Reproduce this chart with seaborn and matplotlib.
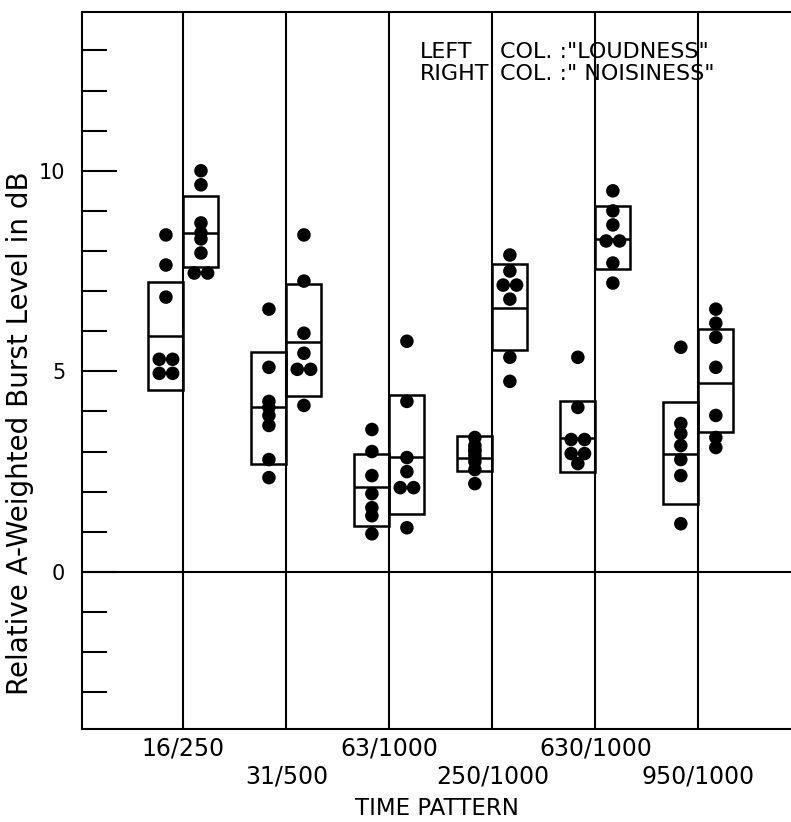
import matplotlib
matplotlib.use("Agg")
import numpy as np
import pandas as pd
import matplotlib.pyplot as plt
import seaborn as sns

# ---------------------------------------------------------------
# data (dB, relative A-weighted burst level)
# ---------------------------------------------------------------
patterns = ["16/250", "31/500", "63/1000", "250/1000", "630/1000", "950/1000"]

loud_pts = [
    [8.4, 7.65, 6.85, 5.3, 5.3, 4.95, 4.95],
    [6.55, 5.1, 4.25, 4.1, 3.9, 3.65, 2.8, 2.35],
    [3.55, 3.0, 2.4, 1.95, 1.6, 1.4, 0.95],
    [3.35, 3.15, 3.05, 3.0, 2.9, 2.75, 2.55, 2.2],
    [5.35, 4.1, 3.3, 3.3, 2.95, 2.95, 2.7],
    [5.6, 3.7, 3.45, 3.15, 2.8, 2.4, 1.2],
]
noise_pts = [
    [10.0, 9.65, 8.7, 8.45, 8.3, 7.95, 7.45, 7.45],
    [8.4, 7.25, 5.95, 5.45, 5.05, 5.05, 4.15],
    [5.75, 4.25, 2.85, 2.5, 2.1, 2.1, 1.1],
    [7.9, 7.5, 7.15, 7.15, 6.8, 5.35, 4.75],
    [9.5, 9.0, 8.65, 8.25, 8.25, 7.7, 7.2],
    [6.55, 6.2, 5.85, 5.1, 3.9, 3.35, 3.1],
]

loud_hi = [7.23, 5.48, 2.95, 3.38, 4.26, 4.23]
loud_mid = [5.87, 4.11, 2.12, 2.85, 3.33, 2.93]
loud_lo = [4.53, 2.68, 1.15, 2.51, 2.49, 1.68]

noise_hi = [9.36, 7.18, 4.41, 7.68, 9.13, 6.05]
noise_mid = [8.44, 5.74, 2.87, 6.58, 8.30, 4.72]
noise_lo = [7.59, 4.38, 1.44, 5.53, 7.55, 3.48]

BOX_W = 0.34   # width of one column box (in pattern units)
DOT_GAP = 0.13  # side-by-side spacing for repeated readings


def spread(vals):
    """horizontal offsets so that equal readings sit next to each other"""
    offs = []
    for i, v in enumerate(vals):
        same = [j for j, w in enumerate(vals) if w == v]
        r = same.index(i)
        offs.append((r - (len(same) - 1) / 2) * DOT_GAP)
    return offs


rows = []
for i, p in enumerate(patterns):
    for col, pts, side in (("Loudness", loud_pts[i], -1), ("Noisiness", noise_pts[i], 1)):
        for v, o in zip(pts, spread(pts)):
            rows.append({"pattern": p, "column": col,
                         "x": i + side * BOX_W / 2 + o, "level": v})
df = pd.DataFrame(rows)

# ---------------------------------------------------------------
# figure
# ---------------------------------------------------------------
sns.set_style("ticks")
plt.rcParams["font.family"] = ["DejaVu Sans"]
plt.rcParams.update({"text.color": "black", "axes.labelcolor": "black",
                     "xtick.color": "black", "ytick.color": "black",
                     "axes.edgecolor": "black"})

fig, ax = plt.subplots(figsize=(7.91, 8.22), dpi=100)
fig.subplots_adjust(left=0.1037, right=1.0, bottom=0.113, top=0.985)

idx = np.arange(len(patterns))

# separators through each time pattern
for i in idx:
    ax.axvline(i, color="black", lw=1.5, zorder=1)
ax.axhline(0, color="black", lw=1.5, zorder=1)

# boxes: left column = loudness, right column = noisiness
lh, lm, ll = map(np.array, (loud_hi, loud_mid, loud_lo))
nh, nm, nl = map(np.array, (noise_hi, noise_mid, noise_lo))
ax.bar(idx - BOX_W / 2, lh - ll, bottom=ll, width=BOX_W, fill=False,
       edgecolor="black", linewidth=1.8, zorder=2)
ax.bar(idx + BOX_W / 2, nh - nl, bottom=nl, width=BOX_W, fill=False,
       edgecolor="black", linewidth=1.8, zorder=2)
ax.hlines(lm, idx - BOX_W, idx, color="black", lw=1.8, zorder=2)
ax.hlines(nm, idx, idx + BOX_W, color="black", lw=1.8, zorder=2)

sns.scatterplot(data=df, x="x", y="level", color="black", s=95,
                edgecolor="none", legend=False, ax=ax, zorder=3)

ax.set_xlim(-0.985, 5.9)
ax.set_ylim(-3.92, 13.95)

ax.set_xticks(idx)
ax.set_xticklabels([p if i % 2 == 0 else "\n" + p for i, p in enumerate(patterns)],
                   linespacing=1.25)
ax.set_yticks([0, 5, 10])
ax.set_yticks(np.arange(-3, 14), minor=True)

ax.tick_params(axis="y", which="major", direction="in", length=25, width=1.5,
               pad=12, labelsize=15)
ax.tick_params(axis="y", which="minor", direction="in", length=18, width=1.5)
ax.tick_params(axis="x", which="both", length=0, pad=5, labelsize=17)

ax.set_xlabel("TIME PATTERN", fontsize=16.5, labelpad=6)
ax.set_ylabel("Relative A-Weighted Burst Level in dB", fontsize=20)
ax.yaxis.set_label_coords(-0.068, 0.413)

sns.despine(ax=ax, top=False, right=True)
for side in ("left", "bottom", "top"):
    ax.spines[side].set_linewidth(1.5)

FS_NOTE = 16
ax.text(2.30, 12.96, "LEFT", fontsize=FS_NOTE, va="center", ha="left")
ax.text(3.07, 12.96, "COL. :\"LOUDNESS\"", fontsize=FS_NOTE, va="center", ha="left")
ax.text(2.30, 12.41, "RIGHT", fontsize=FS_NOTE, va="center", ha="left")
ax.text(3.07, 12.41, "COL. :\" NOISINESS\"", fontsize=FS_NOTE, va="center", ha="left")

fig.savefig("out.png", dpi=100)
